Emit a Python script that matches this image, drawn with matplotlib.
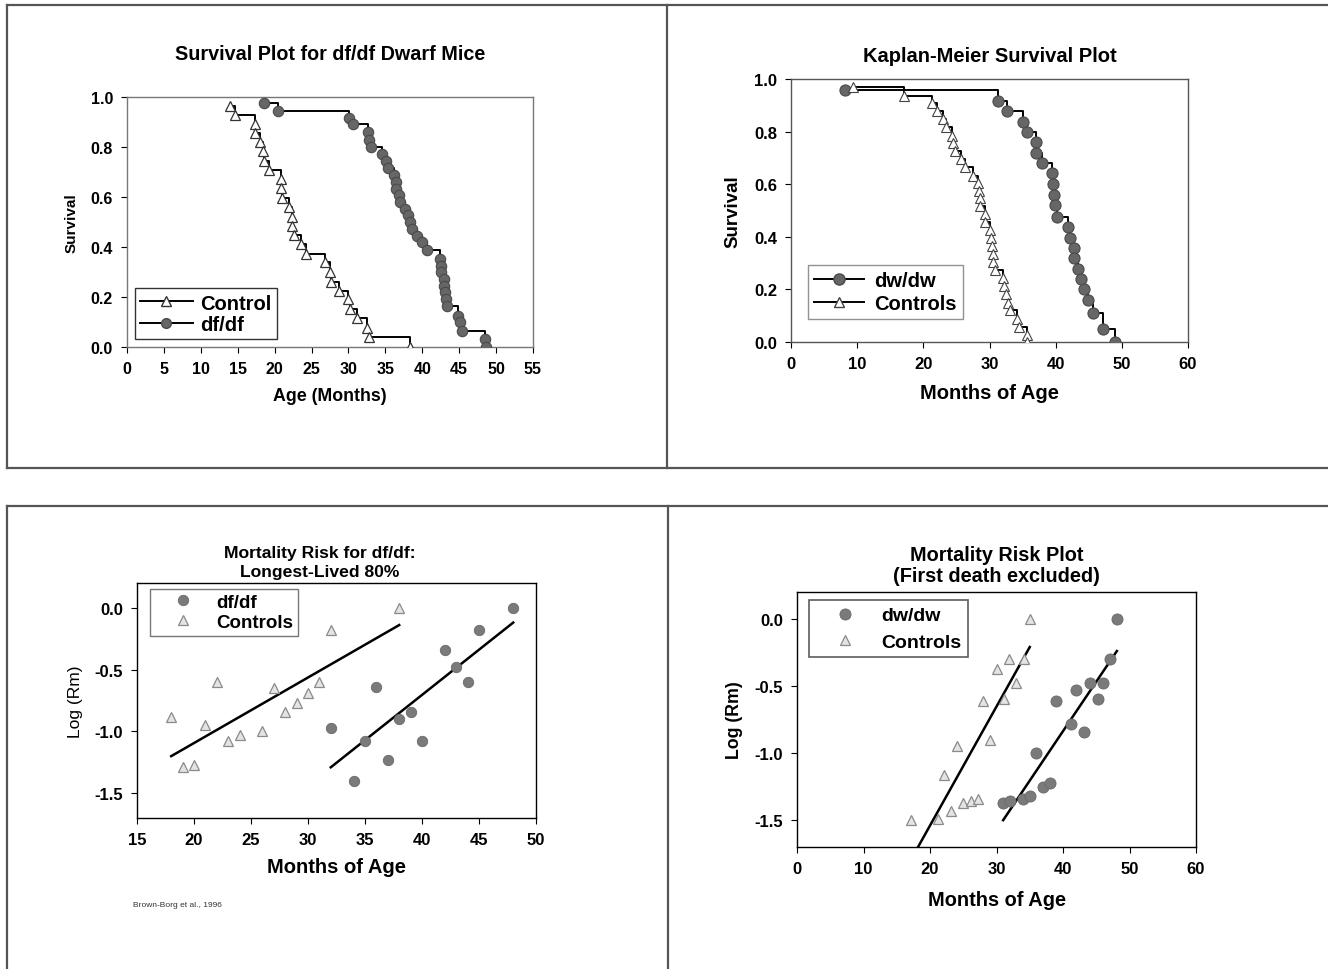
import matplotlib
matplotlib.use("Agg")
import matplotlib.pyplot as plt
from matplotlib.lines import Line2D

plt.rcParams['font.family'] = ['Liberation Sans', 'DejaVu Sans']

# ---------------- data ----------------
# Top-left: Survival plot for df/df dwarf mice
tl_ctrl_age = [14.0, 14.6, 17.3, 17.3, 18.0, 18.4, 18.6, 19.2, 20.8, 20.9, 21.0, 21.9, 22.3, 22.4,
               22.6, 23.6, 24.3, 26.8, 27.5, 27.7, 28.7, 29.9, 30.2, 31.2, 32.5, 32.8, 38.3]
tl_ctrl_surv = [0.963, 0.926, 0.892, 0.856, 0.819, 0.782, 0.743, 0.706, 0.670, 0.633, 0.596, 0.557,
                0.520, 0.484, 0.447, 0.410, 0.372, 0.338, 0.301, 0.261, 0.225, 0.190, 0.152, 0.114,
                0.077, 0.039, 0.0]
tl_df_age = [18.6, 20.4, 30.1, 30.6, 32.6, 32.8, 33.1, 34.5, 35.1, 35.4, 36.2, 36.5, 36.5, 36.8,
             37.0, 37.7, 38.0, 38.3, 38.6, 39.3, 40.0, 40.6, 42.4, 42.5, 42.6, 42.9, 42.9, 43.1,
             43.2, 43.3, 44.9, 45.1, 45.4, 48.5, 48.6]
tl_df_surv = [0.976, 0.941, 0.915, 0.892, 0.859, 0.825, 0.799, 0.772, 0.744, 0.716, 0.685, 0.659,
              0.632, 0.605, 0.579, 0.552, 0.525, 0.499, 0.472, 0.445, 0.419, 0.388, 0.352, 0.325,
              0.299, 0.272, 0.245, 0.219, 0.192, 0.165, 0.125, 0.099, 0.065, 0.032, 0.0]

# Top-right: Kaplan-Meier survival plot
tr_dw_age = [8.2, 31.3, 32.6, 35.1, 35.7, 37.0, 37.1, 38.0, 39.4, 39.6, 39.7, 39.9, 40.2, 41.9,
             42.1, 42.7, 42.8, 43.4, 43.9, 44.3, 44.9, 45.6, 47.1, 48.9]
tr_dw_surv = [0.959, 0.915, 0.879, 0.835, 0.797, 0.759, 0.717, 0.679, 0.641, 0.600, 0.560, 0.520,
              0.477, 0.438, 0.397, 0.359, 0.321, 0.279, 0.241, 0.201, 0.159, 0.110, 0.051, 0.0]
tr_ctrl_age = [9.4, 17.1, 21.3, 22.0, 23.0, 23.5, 24.3, 24.5, 24.8, 25.7, 26.3, 27.5, 28.3, 28.4,
               28.5, 28.6, 29.3, 29.3, 30.1, 30.2, 30.4, 30.6, 30.6, 30.8, 32.0, 32.2, 32.5, 32.8,
               33.1, 34.1, 34.4, 35.6, 35.7]
tr_ctrl_surv = [0.970, 0.937, 0.907, 0.879, 0.848, 0.816, 0.784, 0.755, 0.725, 0.694, 0.664, 0.632,
                0.603, 0.575, 0.547, 0.518, 0.486, 0.458, 0.425, 0.397, 0.365, 0.334, 0.306, 0.273,
                0.242, 0.213, 0.181, 0.150, 0.121, 0.086, 0.057, 0.027, 0.0]

# Bottom-left: mortality risk for df/df
bl_ctrl_age = [18, 19, 20, 21, 22, 23, 24, 26, 27, 28, 29, 30, 31, 32, 38]
bl_ctrl_logrm = [-0.88, -1.29, -1.27, -0.95, -0.60, -1.08, -1.03, -1.00, -0.65, -0.84, -0.77,
                 -0.69, -0.60, -0.18, 0.0]
bl_df_age = [32, 34, 35, 36, 37, 38, 39, 40, 42, 43, 44, 45, 48]
bl_df_logrm = [-0.97, -1.40, -1.08, -0.64, -1.23, -0.90, -0.84, -1.08, -0.34, -0.48, -0.60,
               -0.18, 0.0]
bl_ctrl_fit_age = [18, 38]
bl_ctrl_fit_logrm = [-1.20, -0.14]
bl_df_fit_age = [32, 48]
bl_df_fit_logrm = [-1.29, -0.12]

# Bottom-right: mortality risk plot (first death excluded)
br_ctrl_age = [17.1, 21.2, 22.1, 23.2, 24.1, 25.0, 26.2, 27.2, 28.0, 29.0, 30.1, 31.1, 31.9, 33.0,
               34.1, 35.0]
br_ctrl_logrm = [-1.50, -1.49, -1.16, -1.43, -0.95, -1.37, -1.36, -1.34, -0.61, -0.90, -0.37,
                 -0.60, -0.30, -0.48, -0.30, 0.0]
br_dw_age = [31.0, 32.1, 34.0, 35.0, 36.0, 37.0, 38.1, 38.9, 41.2, 42.0, 43.1, 44.1, 45.2, 46.0,
             47.0, 48.1]
br_dw_logrm = [-1.37, -1.36, -1.34, -1.32, -1.00, -1.25, -1.22, -0.61, -0.78, -0.53, -0.84,
               -0.48, -0.60, -0.48, -0.30, 0.0]
br_ctrl_fit_age = [18.2, 35.0]
br_ctrl_fit_logrm = [-1.70, -0.21]
br_dw_fit_age = [31.0, 48.1]
br_dw_fit_logrm = [-1.50, -0.24]

# ---------------- figure ----------------
W, H = 1328, 970
fig = plt.figure(figsize=(W / 100, H / 100), dpi=100)


def rect(l, t, r, b):
    return [l / W, 1 - b / H, (r - l) / W, (b - t) / H]


def hline(y, x0, x1):
    fig.add_artist(Line2D([x0 / W, x1 / W], [1 - y / H, 1 - y / H], color='#555555', lw=1.6))


def vline(x, y0, y1):
    fig.add_artist(Line2D([x / W, x / W], [1 - y0 / H, 1 - y1 / H], color='#555555', lw=1.6))


# panel borders
hline(6, 7, W)
hline(469, 7, W)
vline(7, 6, 469)
vline(667, 6, 469)
hline(507, 7, W)
vline(7, 507, H)
vline(668, 507, H)

BOLD = 'bold'


def style_axes(ax, tick_size, frame_color='black'):
    for s in ax.spines.values():
        s.set_color(frame_color)
        s.set_linewidth(1.0)
    ax.tick_params(direction='out', length=4, width=0.8, colors='black', labelsize=tick_size,
                   pad=6)
    for lab in ax.get_xticklabels() + ax.get_yticklabels():
        lab.set_fontweight(BOLD)


# ---- top-left ----
ax1 = fig.add_axes(rect(127, 97.5, 533, 348))
ax1.plot(tl_ctrl_age, tl_ctrl_surv, drawstyle='steps-post', color='black', lw=1.4, zorder=2)
ax1.plot(tl_ctrl_age, tl_ctrl_surv, ls='none', marker='^', ms=7.5, mfc='white', mec='#333333',
         mew=0.9, zorder=3)
ax1.plot(tl_df_age, tl_df_surv, drawstyle='steps-post', color='black', lw=1.4, zorder=2)
ax1.plot(tl_df_age, tl_df_surv, ls='none', marker='o', ms=7.5, mfc='#666666', mec='#4a4a4a',
         mew=0.8, zorder=3)
ax1.set_xlim(0, 55)
ax1.set_ylim(0, 1.0)
ax1.set_xticks(range(0, 56, 5))
ax1.set_yticks([0.0, 0.2, 0.4, 0.6, 0.8, 1.0])
ax1.set_yticklabels(['0.0', '0.2', '0.4', '0.6', '0.8', '1.0'])
style_axes(ax1, 11.5, '#777777')
ax1.set_title('Survival Plot for df/df Dwarf Mice', fontsize=14.2, fontweight=BOLD, pad=27)
ax1.set_xlabel('Age (Months)', fontsize=12.8, fontweight=BOLD, labelpad=8)
ax1.set_ylabel('Survival', fontsize=11, fontweight=BOLD, labelpad=9)
h1 = [Line2D([], [], color='black', lw=1.4, marker='^', ms=7, mfc='white', mec='#333333'),
      Line2D([], [], color='black', lw=1.4, marker='o', ms=7, mfc='#666666', mec='#4a4a4a')]
lg = ax1.legend(h1, ['Control', 'df/df'], loc='lower left', bbox_to_anchor=(0.02, 0.032),
                prop={'size': 14.5, 'weight': 'bold'}, frameon=True, fancybox=False,
                edgecolor='black', handlelength=2.6, borderpad=0.25, labelspacing=0.12,
                handletextpad=0.4, borderaxespad=0)
lg.get_frame().set_linewidth(1.0)

# ---- top-right ----
ax2 = fig.add_axes(rect(791, 80, 1188, 343))
ax2.plot(tr_dw_age, tr_dw_surv, drawstyle='steps-post', color='black', lw=1.4, zorder=2)
ax2.plot(tr_dw_age, tr_dw_surv, ls='none', marker='o', ms=8, mfc='#666666', mec='#4a4a4a',
         mew=0.8, zorder=3)
ax2.plot(tr_ctrl_age, tr_ctrl_surv, drawstyle='steps-post', color='black', lw=1.4, zorder=2)
ax2.plot(tr_ctrl_age, tr_ctrl_surv, ls='none', marker='^', ms=7.5, mfc='white', mec='#444444',
         mew=0.8, zorder=3)
ax2.set_xlim(0, 60)
ax2.set_ylim(0, 1.0)
ax2.set_xticks(range(0, 61, 10))
ax2.set_yticks([0.0, 0.2, 0.4, 0.6, 0.8, 1.0])
ax2.set_yticklabels(['0.0', '0.2', '0.4', '0.6', '0.8', '1.0'])
style_axes(ax2, 12, '#555555')
ax2.set_title('Kaplan-Meier Survival Plot', fontsize=14.5, fontweight=BOLD, pad=13)
ax2.set_xlabel('Months of Age', fontsize=14.5, fontweight=BOLD, labelpad=9)
ax2.set_ylabel('Survival', fontsize=13.5, fontweight=BOLD, labelpad=9)
h2 = [Line2D([], [], color='black', lw=1.4, marker='o', ms=8, mfc='#666666', mec='#4a4a4a'),
      Line2D([], [], color='black', lw=1.4, marker='^', ms=7, mfc='white', mec='#444444')]
lg = ax2.legend(h2, ['dw/dw', 'Controls'], loc='lower left', bbox_to_anchor=(0.043, 0.087),
                prop={'size': 14.5, 'weight': 'bold'}, frameon=True, fancybox=False,
                edgecolor='#777777', handlelength=2.5, borderpad=0.3, labelspacing=0.2,
                handletextpad=0.5, borderaxespad=0)
lg.get_frame().set_linewidth(1.0)

# ---- bottom-left ----
ax3 = fig.add_axes(rect(137, 584, 536, 819))
ax3.plot(bl_ctrl_fit_age, bl_ctrl_fit_logrm, color='black', lw=1.8, zorder=2)
ax3.plot(bl_df_fit_age, bl_df_fit_logrm, color='black', lw=1.8, zorder=2)
ax3.plot(bl_df_age, bl_df_logrm, ls='none', marker='o', ms=7.5, mfc='#7a7a7a', mec='#6a6a6a',
         mew=0.6, zorder=3, label='df/df')
ax3.plot(bl_ctrl_age, bl_ctrl_logrm, ls='none', marker='^', ms=7.5, mfc='#e4e4e4', mec='#8a8a8a',
         mew=0.9, zorder=3, label='Controls')
ax3.set_xlim(15, 50)
ax3.set_ylim(-1.7, 0.2)
ax3.set_xticks(range(15, 51, 5))
ax3.set_yticks([0.0, -0.5, -1.0, -1.5])
ax3.set_yticklabels(['0.0', '-0.5', '-1.0', '-1.5'])
style_axes(ax3, 12)
ax3.set_title('Mortality Risk for df/df:\nLongest-Lived 80%', fontsize=12.6, fontweight=BOLD,
              pad=5, linespacing=1.3, x=0.459)
ax3.set_xlabel('Months of Age', fontsize=14.5, fontweight=BOLD, labelpad=7)
ax3.set_ylabel('Log (Rm)', fontsize=12.5, labelpad=8)
lg = ax3.legend(loc='upper left', bbox_to_anchor=(0.033, 0.974),
                prop={'size': 13.5, 'weight': 'bold'}, frameon=True, fancybox=False,
                edgecolor='#555555', handlelength=3.0, borderpad=0.25, labelspacing=0.15,
                handletextpad=0.3, borderaxespad=0)
lg.get_frame().set_linewidth(1.0)
fig.text(133 / W, 1 - 906 / H, 'Brown-Borg et al., 1996', fontsize=6, va='center', ha='left',
         color='#333333')

# ---- bottom-right ----
ax4 = fig.add_axes(rect(797, 593, 1196, 848))
ax4.plot(br_ctrl_fit_age, br_ctrl_fit_logrm, color='black', lw=1.8, zorder=2)
ax4.plot(br_dw_fit_age, br_dw_fit_logrm, color='black', lw=1.8, zorder=2)
ax4.plot(br_dw_age, br_dw_logrm, ls='none', marker='o', ms=8, mfc='#7a7a7a', mec='#6a6a6a',
         mew=0.6, zorder=3, label='dw/dw')
ax4.plot(br_ctrl_age, br_ctrl_logrm, ls='none', marker='^', ms=7.5, mfc='#e4e4e4', mec='#8a8a8a',
         mew=0.9, zorder=3, label='Controls')
ax4.set_xlim(0, 60)
ax4.set_ylim(-1.7, 0.2)
ax4.set_xticks(range(0, 61, 10))
ax4.set_yticks([0.0, -0.5, -1.0, -1.5])
ax4.set_yticklabels(['0.0', '-0.5', '-1.0', '-1.5'])
style_axes(ax4, 12)
ax4.set_title('Mortality Risk Plot\n(First death excluded)', fontsize=14.3, fontweight=BOLD,
              pad=8, linespacing=1.1)
ax4.set_xlabel('Months of Age', fontsize=14.4, fontweight=BOLD, labelpad=10)
ax4.set_ylabel('Log (Rm)', fontsize=12.8, fontweight=BOLD, labelpad=8)
lg = ax4.legend(loc='upper left', bbox_to_anchor=(0.03, 0.969),
                prop={'size': 14, 'weight': 'bold'}, frameon=True, fancybox=False,
                edgecolor='#333333', handlelength=3.0, borderpad=0.35, labelspacing=0.45,
                handletextpad=0.35, borderaxespad=0)
lg.get_frame().set_linewidth(1.2)

fig.savefig('out.png', dpi=100, facecolor='white')
